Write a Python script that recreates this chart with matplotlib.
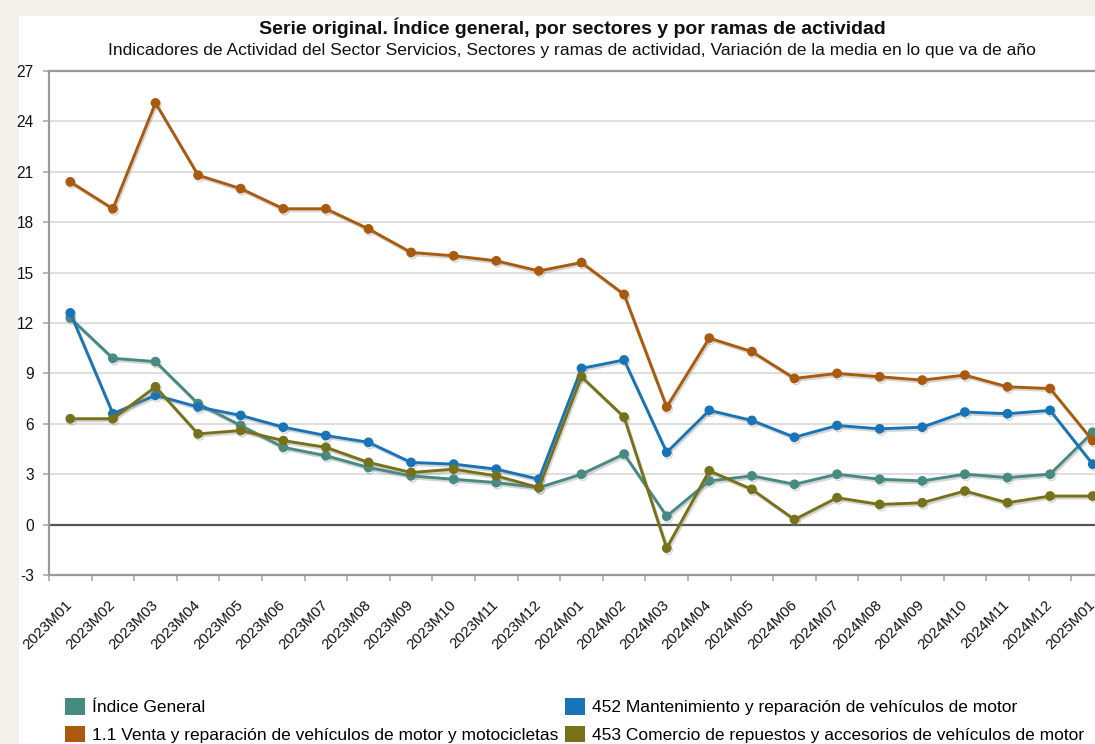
import matplotlib
matplotlib.use("Agg")
import matplotlib.pyplot as plt
import matplotlib.patheffects as pe
from matplotlib.patches import Patch, Rectangle
import numpy as np

plt.rcParams['font.family'] = ['Liberation Sans', 'DejaVu Sans']

categories = ["2023M01", "2023M02", "2023M03", "2023M04", "2023M05", "2023M06",
              "2023M07", "2023M08", "2023M09", "2023M10", "2023M11", "2023M12",
              "2024M01", "2024M02", "2024M03", "2024M04", "2024M05", "2024M06",
              "2024M07", "2024M08", "2024M09", "2024M10", "2024M11", "2024M12",
              "2025M01"]

indice_general = [12.3, 9.9, 9.7, 7.2, 5.9, 4.6, 4.1, 3.4, 2.9, 2.7, 2.5, 2.2,
                  3.0, 4.2, 0.5, 2.6, 2.9, 2.4, 3.0, 2.7, 2.6, 3.0, 2.8, 3.0, 5.5]
venta_reparacion = [20.4, 18.8, 25.1, 20.8, 20.0, 18.8, 18.8, 17.6, 16.2, 16.0, 15.7, 15.1,
                    15.6, 13.7, 7.0, 11.1, 10.3, 8.7, 9.0, 8.8, 8.6, 8.9, 8.2, 8.1, 5.0]
mantenimiento = [12.6, 6.6, 7.7, 7.0, 6.5, 5.8, 5.3, 4.9, 3.7, 3.6, 3.3, 2.7,
                 9.3, 9.8, 4.3, 6.8, 6.2, 5.2, 5.9, 5.7, 5.8, 6.7, 6.6, 6.8, 3.6]
comercio_repuestos = [6.3, 6.3, 8.2, 5.4, 5.6, 5.0, 4.6, 3.7, 3.1, 3.3, 2.9, 2.2,
                      8.8, 6.4, -1.4, 3.2, 2.1, 0.3, 1.6, 1.2, 1.3, 2.0, 1.3, 1.7, 1.7]

series_names = ["Índice General",
                "1.1 Venta y reparación de vehículos de motor y motocicletas",
                "452 Mantenimiento y reparación de vehículos de motor",
                "453 Comercio de repuestos y accesorios de vehículos de motor"]
y_ticks = list(range(-3, 28, 3))

title = "Serie original. Índice general, por sectores y por ramas de actividad"
subtitle = ("Indicadores de Actividad del Sector Servicios, Sectores y ramas de actividad, "
            "Variación de la media en lo que va de año")

colors = ["#468a81", "#a95a0e", "#1874b6", "#77711a"]

W, H = 1095, 744
fig = plt.figure(figsize=(W / 100, H / 100), dpi=100)
fig.patch.set_facecolor("#f4f1ed")
fig.patches.append(Rectangle((19 / W, 0), 1, 1 - 16 / H, transform=fig.transFigure,
                             facecolor="white", edgecolor="none", zorder=-10))

ax_left, ax_right, ax_top, ax_bottom = 49, 1114, 71, 575
ax = fig.add_axes([ax_left / W, 1 - ax_bottom / H, (ax_right - ax_left) / W,
                   (ax_bottom - ax_top) / H])
ax.set_zorder(2)
ax.set_facecolor("white")

x = np.arange(len(categories))
data = [indice_general, venta_reparacion, mantenimiento, comercio_repuestos]
shadow = [pe.SimpleLineShadow(offset=(1, -1.5), shadow_color="#888888", alpha=0.35),
          pe.Normal()]
zorders = [3, 4, 5, 6]
for vals, c, z in zip(data, colors, zorders):
    ax.plot(x, vals, color=c, lw=2.1, marker="o", ms=6, mfc=c, mec=c,
            zorder=z, path_effects=shadow, solid_capstyle="round")

ax.set_xlim(-0.5, len(categories) - 0.5)
ax.set_ylim(-3, 27)
ax.set_yticks(y_ticks)
ax.set_yticklabels([str(v) for v in y_ticks])
ax.yaxis.grid(True, color="#d8d8d8", lw=1.2, zorder=0)
ax.set_axisbelow(True)
ax.axhline(0, color="#555555", lw=1.6, zorder=2)

ax.set_xticks(x)
ax.set_xticklabels(categories, rotation=45, ha="right", va="center",
                   rotation_mode="anchor")
ax.set_xticks(np.arange(-0.5, len(categories), 1), minor=True)
ax.tick_params(axis="x", which="major", length=0, pad=20, labelsize=10.8,
               labelcolor="#111111")
ax.tick_params(axis="x", which="minor", length=4, width=1.2, color="#aaaaaa")
ax.tick_params(axis="y", length=4, width=1.2, color="#aaaaaa", pad=7,
               labelsize=11.2, labelcolor="#111111")

for s in ["left", "bottom", "top"]:
    ax.spines[s].set_color("#9a9a9a")
    ax.spines[s].set_linewidth(1.6)
ax.spines["right"].set_visible(False)

fig.text(572 / W, 1 - 28 / H, title, ha="center", va="center", fontsize=14,
         fontweight="bold", color="#111111")
fig.text(572 / W, 1 - 50 / H, subtitle, ha="center", va="center", fontsize=12.6,
         color="#111111")

handles = [Patch(facecolor=c, edgecolor="none") for c in colors]
leg = fig.legend(handles, series_names, ncol=2, loc="upper left",
                 bbox_to_anchor=(65 / W, 1 - 698 / H), frameon=False,
                 fontsize=12.5, handlelength=1.15, handleheight=1.1,
                 handletextpad=0.4, columnspacing=0.4, labelspacing=0.6,
                 borderaxespad=0, borderpad=0)

fig.savefig("out.png", dpi=100, facecolor=fig.get_facecolor())
